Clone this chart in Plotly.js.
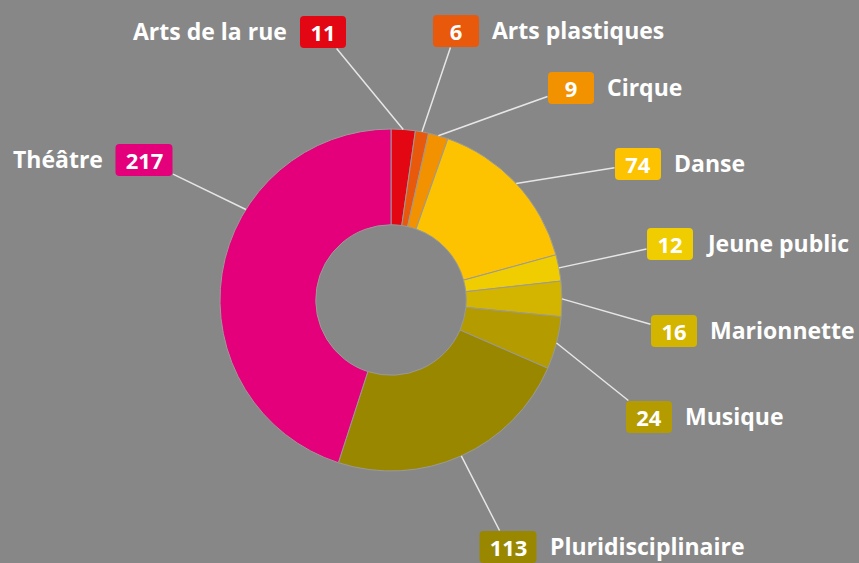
<!DOCTYPE html>
<html>
<head>
<meta charset="utf-8">
<script src="https://cdn.plot.ly/plotly-3.0.1.min.js"></script>
<style>html,body{margin:0;padding:0;background:#878787;}#chart{width:859px;height:563px;}</style>
</head>
<body>
<div id="chart"></div>
<script>
// ---- data ----
const categories = ['Arts de la rue','Arts plastiques','Cirque','Danse','Jeune public','Marionnette','Musique','Pluridisciplinaire','Théâtre'];
const values = [11, 6, 9, 74, 12, 16, 24, 113, 217];
const colors = ['#e30613','#e8590c','#f39200','#fdc300','#efcd00','#d3b500','#b39b00','#9a8700','#e4007a'];

// ---- layout settings (pixels) ----
const W = 859, H = 563;
const CX = 391, CY = 300, R = 171, HOLE = 0.44;
const labelBoxX = [323, 456, 571, 638, 670, 674, 649, 508, 144];
const labelBoxY = [32, 31, 88, 164, 244, 331, 417, 547, 160];
const nameSide = ['left','right','right','right','right','right','right','right','left'];
const connectorShift = [0,0,0,0,0,0,0,0,23];
const BG = '#878787';

const total = values.reduce((a,b)=>a+b,0);
const annotations = [];
const shapes = [];
let cum = 0;
values.forEach((v,i)=>{
  const mid = (cum + v/2)/total*360 + connectorShift[i];
  cum += v;
  const t = mid*Math.PI/180;
  const px = CX + R*Math.sin(t), py = CY - R*Math.cos(t);
  const bx = labelBoxX[i], by = labelBoxY[i];
  const txt = String(v);
  const bw = txt.length >= 3 ? 57 : 46, bh = 32;
  // rounded box
  const r = 4;
  const x0 = bx - bw/2, x1 = bx + bw/2, y0 = by - bh/2, y1 = by + bh/2;
  const P = (x,y)=> (x/W).toFixed(5)+','+(1-y/H).toFixed(5);
  const path = 'M'+P(x0+r,y0)+' L'+P(x1-r,y0)+' Q'+P(x1,y0)+' '+P(x1,y0+r)+
    ' L'+P(x1,y1-r)+' Q'+P(x1,y1)+' '+P(x1-r,y1)+' L'+P(x0+r,y1)+' Q'+P(x0,y1)+' '+P(x0,y1-r)+
    ' L'+P(x0,y0+r)+' Q'+P(x0,y0)+' '+P(x0+r,y0)+' Z';
  shapes.push({type:'path', xref:'paper', yref:'paper', path:path, fillcolor:colors[i], line:{width:0}, layer:'above'});
  annotations.push({
    xref:'paper', yref:'paper', x:px/W, y:1-py/H,
    ax: bx-px, ay: by-py,
    showarrow:true, arrowhead:0, arrowwidth:1.5, arrowcolor:'#e6e6e6', standoff:0,
    text: txt, width: bw-6, height: bh-6, borderpad:3, valign:'middle', align:'center',
    font:{family:'Open Sans', size:22, color:'#ffffff', weight:700}
  });
  const gap = 11;
  const nx = nameSide[i]==='right' ? bx + bw/2 + gap : bx - bw/2 - gap;
  annotations.push({
    xref:'paper', yref:'paper', x:nx/W, y:1-(by-1)/H,
    xanchor: nameSide[i]==='right' ? 'left' : 'right', yanchor:'middle',
    showarrow:false, text:categories[i],
    font:{family:'Open Sans', size:23, color:'#ffffff', weight:700}
  });
});

const trace = {
  type:'pie', labels:categories, values:values, sort:false,
  direction:'clockwise', rotation:0, hole:HOLE,
  textinfo:'none', hoverinfo:'none',
  marker:{colors:colors, line:{color:'#9a9a9a', width:1}},
  domain:{x:[(CX-R)/W,(CX+R)/W], y:[1-(CY+R)/H, 1-(CY-R)/H]}
};

Plotly.newPlot('chart',[trace],{
  width:W, height:H, margin:{l:0,r:0,t:0,b:0},
  paper_bgcolor:BG, plot_bgcolor:BG, showlegend:false,
  annotations:annotations, shapes:shapes
},{displayModeBar:false, staticPlot:true});
</script>
</body>
</html>
